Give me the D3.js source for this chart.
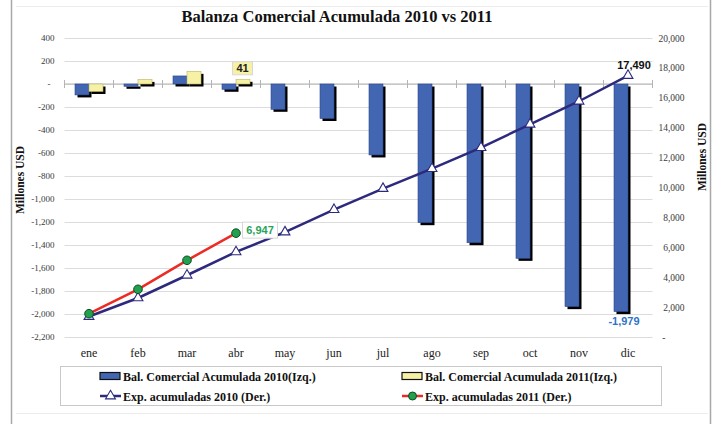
<!DOCTYPE html>
<html>
<head>
<meta charset="utf-8">
<script src="https://cdn.jsdelivr.net/npm/d3@7"></script>
<style>
  body { margin: 0; background: #fff; }
  svg { display: block; }
</style>
</head>
<body>
<svg id="chart"></svg>
<script>
// Chart data
const months = ["ene", "feb", "mar", "abr", "may", "jun", "jul", "ago", "sep", "oct", "nov", "dic"];
const bal2010 = [-95, -20, 70, -46, -220, -300, -617, -1206, -1380, -1516, -1936, -1979];
const bal2011 = [-65, 40, 110, 41];
const exp2010 = [1370, 2610, 4130, 5690, 7020, 8520, 9930, 11260, 12670, 14230, 15770, 17490];
const exp2011 = [1560, 3190, 5130, 6947];
const leftTicks = [400, 200, 0, -200, -400, -600, -800, -1000, -1200, -1400, -1600, -1800, -2000, -2200];
const rightTicks = [20000, 18000, 16000, 14000, 12000, 10000, 8000, 6000, 4000, 2000, 0];

const legendItems = [
    "Bal. Comercial Acumulada 2010(Izq.)",
    "Bal. Comercial Acumulada 2011(Izq.)",
    "Exp. acumuladas 2010 (Der.)",
    "Exp. acumuladas 2011 (Der.)"
];

// Colors
const BLUE = "#4266b2";
const YELLOW = "#f6f1a4";
const NAVY = "#2d2a7e";
const RED = "#ec2b25";
const GREEN = "#21a04e";

const W = 718, H = 424;
const SERIF = "'Liberation Serif', 'Times New Roman', serif";
const SANS = "'Liberation Sans', Arial, sans-serif";

// plain hyphen for negatives, like the original
const locale = d3.formatLocale({ decimal: ".", thousands: ",", grouping: [3], currency: ["$", ""], minus: "-" });
const comma = locale.format(",");
const fmt = v => v === 0 ? "-" : comma(v);

const svg = d3.select("#chart").attr("width", W).attr("height", H);

// Frame
svg.append("line").attr("x1", 11.5).attr("x2", 11.5).attr("y1", 0).attr("y2", H)
    .attr("stroke", "#a8a8a8").attr("stroke-width", 1.5);
svg.append("line").attr("x1", 710.5).attr("x2", 710.5).attr("y1", 0).attr("y2", H)
    .attr("stroke", "#a8a8a8").attr("stroke-width", 1.5);
svg.append("line").attr("x1", 16).attr("x2", 708).attr("y1", 6.5).attr("y2", 6.5)
    .attr("stroke", "#ececec");
svg.append("line").attr("x1", 16).attr("x2", 708).attr("y1", 413.5).attr("y2", 413.5)
    .attr("stroke", "#ececec");

// Scales
const plotL = 64.5, plotR = 652.5, plotT = 38, plotB = 337;

const x0 = d3.scaleBand().domain(months).range([plotL, plotR]);
const x1 = d3.scaleBand().domain(["b2010", "b2011"]).range([-14, 14]);
const cx = m => x0(m) + x0.bandwidth() / 2;

const yL = d3.scaleLinear().domain([-2200, 400]).range([plotB, plotT]);
const yR = d3.scaleLinear().domain([0, 20000]).range([plotB, plotT]);

// Title
svg.append("text")
    .attr("x", 337).attr("y", 22)
    .attr("text-anchor", "middle")
    .style("font-family", SERIF).style("font-weight", "bold").style("font-size", "16.5px")
    .attr("fill", "#111")
    .text("Balanza Comercial Acumulada 2010 vs 2011");

// Gridlines
svg.append("g")
    .attr("transform", `translate(${plotL},0)`)
    .call(d3.axisLeft(yL).tickValues(leftTicks).tickSize(-(plotR - plotL)).tickFormat(""))
    .call(g => g.select(".domain").remove())
    .call(g => g.selectAll("line").attr("stroke", "#dcdcdc"));

// Left axis labels
svg.append("g")
    .attr("transform", `translate(${plotL},0)`)
    .call(d3.axisLeft(yL).tickValues(leftTicks).tickSize(0).tickPadding(10).tickFormat(fmt))
    .call(g => g.select(".domain").remove())
    .call(g => g.selectAll("text")
        .style("font-family", SERIF).style("font-size", "9px").attr("fill", "#3a3a3a")
        .attr("dx", d => d === 0 ? -4 : 0));

// Right axis labels
svg.append("g")
    .attr("transform", `translate(${plotR},0)`)
    .call(d3.axisRight(yR).tickValues(rightTicks).tickSize(0).tickPadding(0).tickFormat(fmt))
    .call(g => g.select(".domain").remove())
    .call(g => g.selectAll("text")
        .style("font-family", SERIF).style("font-size", "9.5px").attr("fill", "#3a3a3a")
        .attr("text-anchor", "end").attr("x", d => d === 0 ? 13 : 32));

// Axis titles
svg.append("text")
    .attr("transform", "translate(24,180) rotate(-90)")
    .attr("text-anchor", "middle")
    .style("font-family", SERIF).style("font-weight", "bold").style("font-size", "11.5px")
    .attr("fill", "#111")
    .text("Millones USD");
svg.append("text")
    .attr("transform", "translate(706,157) rotate(-90)")
    .attr("text-anchor", "middle")
    .style("font-family", SERIF).style("font-weight", "bold").style("font-size", "11.5px")
    .attr("fill", "#111")
    .text("Millones USD");

// Category labels
svg.append("g")
    .attr("transform", `translate(0,${plotB + 20})`)
    .call(d3.axisBottom(x0).tickSize(0).tickPadding(0))
    .call(g => g.select(".domain").remove())
    .call(g => g.selectAll("text")
        .attr("dy", 0)
        .style("font-family", SERIF).style("font-size", "12px").attr("fill", "#222"));

// Bars
const barData = [];
bal2010.forEach((v, i) => barData.push({ m: months[i], s: "b2010", v: v, c: BLUE }));
bal2011.forEach((v, i) => barData.push({ m: months[i], s: "b2011", v: v, c: YELLOW }));

const bars = svg.append("g");
// shadows first
bars.selectAll("rect.shadow")
    .data(barData)
    .join("rect")
    .attr("class", "shadow")
    .attr("x", d => cx(d.m) + x1(d.s) + 2.5)
    .attr("y", d => Math.min(yL(0), yL(d.v)) + 2.5)
    .attr("width", x1.bandwidth())
    .attr("height", d => Math.abs(yL(d.v) - yL(0)))
    .attr("fill", "#000");

// Zero line with band ticks
svg.append("line")
    .attr("x1", plotL).attr("x2", plotR)
    .attr("y1", yL(0)).attr("y2", yL(0))
    .attr("stroke", "#b4b4b4").attr("stroke-width", 1.2);
svg.append("g").selectAll("line")
    .data(months.concat(["end"]))
    .join("line")
    .attr("x1", d => d === "end" ? plotR : x0(d))
    .attr("x2", d => d === "end" ? plotR : x0(d))
    .attr("y1", yL(0) - 4).attr("y2", yL(0) + 4)
    .attr("stroke", "#b4b4b4");

bars.selectAll("rect.bar")
    .data(barData)
    .join("rect")
    .attr("class", "bar")
    .attr("x", d => cx(d.m) + x1(d.s))
    .attr("y", d => Math.min(yL(0), yL(d.v)))
    .attr("width", x1.bandwidth())
    .attr("height", d => Math.abs(yL(d.v) - yL(0)))
    .attr("fill", d => d.c)
    .attr("stroke", d => d.s === "b2010" ? "#2c4a8c" : "#b9b46a")
    .attr("stroke-width", 0.6);
svg.node().appendChild(bars.node());

// Lines
const line2010 = d3.line().x((d, i) => cx(months[i])).y(d => yR(d));
const line2011 = d3.line().x((d, i) => cx(months[i])).y(d => yR(d));

svg.append("path").datum(exp2010)
    .attr("d", line2010).attr("fill", "none")
    .attr("stroke", NAVY).attr("stroke-width", 2.5);
svg.append("path").datum(exp2011)
    .attr("d", line2011).attr("fill", "none")
    .attr("stroke", RED).attr("stroke-width", 2.5);

const tri = d3.symbol().type(d3.symbolTriangle).size(42);
svg.append("g").selectAll("path")
    .data(exp2010)
    .join("path")
    .attr("d", tri)
    .attr("transform", (d, i) => `translate(${cx(months[i])},${yR(d)})`)
    .attr("fill", "#fff").attr("stroke", NAVY).attr("stroke-width", 1.1);

svg.append("g").selectAll("circle")
    .data(exp2011)
    .join("circle")
    .attr("cx", (d, i) => cx(months[i]))
    .attr("cy", d => yR(d))
    .attr("r", 4.3)
    .attr("fill", GREEN).attr("stroke", "#0d4d22").attr("stroke-width", 1);

// Data labels
function boxLabel(x, y, w, h, fill, txt, color) {
    svg.append("rect")
        .attr("x", x - w / 2).attr("y", y - h / 2)
        .attr("width", w).attr("height", h)
        .attr("fill", fill).attr("stroke", "#d8d8d8");
    svg.append("text")
        .attr("x", x).attr("y", y + 4)
        .attr("text-anchor", "middle")
        .style("font-family", SANS).style("font-weight", "bold").style("font-size", "11px")
        .attr("fill", color)
        .text(txt);
}
boxLabel(cx("abr") + 6.5, yL(bal2011[3]) - 11, 20, 13, YELLOW, comma(bal2011[3]), "#222");
boxLabel(cx("abr") + 24, yR(exp2011[3]) - 3, 35, 16, "#fff", comma(exp2011[3]), "#2aa35a");

svg.append("text")
    .attr("x", cx("dic") + 6).attr("y", yR(exp2010[11]) - 7)
    .attr("text-anchor", "middle")
    .style("font-family", SANS).style("font-weight", "bold").style("font-size", "11px")
    .attr("fill", "#111")
    .text(comma(exp2010[11]));

svg.append("text")
    .attr("x", cx("dic") - 4).attr("y", yL(bal2010[11]) + 13)
    .attr("text-anchor", "middle")
    .style("font-family", SANS).style("font-weight", "bold").style("font-size", "11px")
    .attr("fill", "#2f73c3")
    .text(comma(bal2010[11]));

// Legend
const legend = svg.append("g");
legend.append("rect")
    .attr("x", 60.5).attr("y", 366.5).attr("width", 601).attr("height", 39)
    .attr("fill", "#fff").attr("stroke", "#c8c8c8");

const legPos = [[100, 376], [402, 376], [100, 396], [402, 396]];
legendItems.forEach((name, i) => {
    const [lx, ly] = legPos[i];
    const g = legend.append("g").attr("transform", `translate(${lx},${ly})`);
    if (i === 0 || i === 1) {
        g.append("rect").attr("x", 0).attr("y", -3.5).attr("width", 20).attr("height", 7)
            .attr("fill", i === 0 ? BLUE : YELLOW).attr("stroke", "#111").attr("stroke-width", 1.2);
    } else if (i === 2) {
        g.append("line").attr("x1", 0).attr("x2", 21).attr("y1", 0).attr("y2", 0)
            .attr("stroke", NAVY).attr("stroke-width", 2.5);
        g.append("path").attr("d", tri).attr("transform", "translate(10.5,0)")
            .attr("fill", "#fff").attr("stroke", NAVY).attr("stroke-width", 1.1);
    } else {
        g.append("line").attr("x1", 0).attr("x2", 21).attr("y1", 0).attr("y2", 0)
            .attr("stroke", RED).attr("stroke-width", 2.5);
        g.append("circle").attr("cx", 10.5).attr("cy", 0).attr("r", 4)
            .attr("fill", GREEN).attr("stroke", "#0d4d22");
    }
    g.append("text")
        .attr("x", 23).attr("y", 4.5)
        .style("font-family", SERIF).style("font-weight", "bold").style("font-size", "12px")
        .attr("fill", "#111")
        .text(name);
});
</script>
</body>
</html>
